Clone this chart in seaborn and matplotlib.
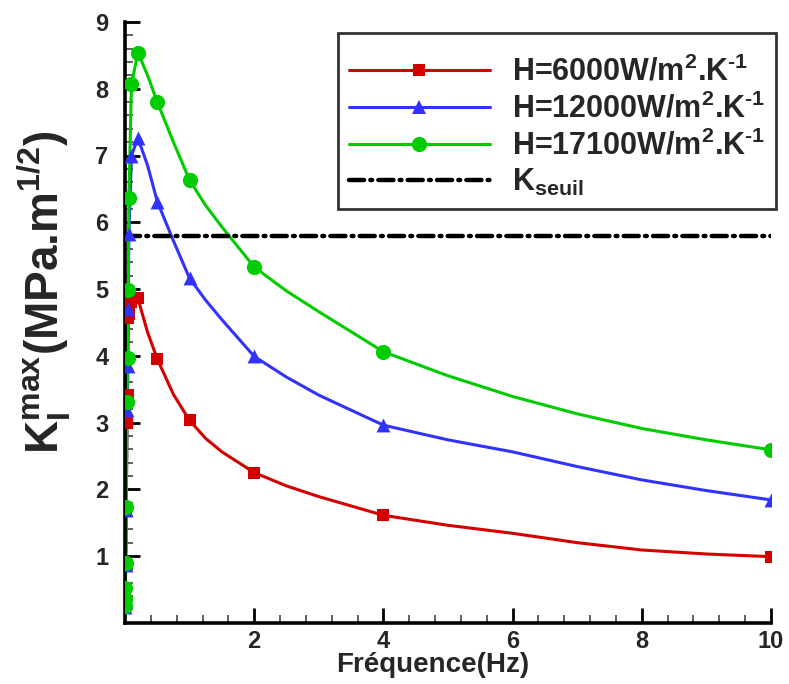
import numpy as np
import pandas as pd
import seaborn as sns
import matplotlib.pyplot as plt
from matplotlib.lines import Line2D
from matplotlib.ticker import MultipleLocator

# frequencies (Hz) where the markers sit
freq = [0.001, 0.002, 0.005, 0.01, 0.02, 0.03, 0.04, 0.05, 0.06, 0.1, 0.2, 0.5, 1, 2, 4, 10]
k_6000 = [0.23, 0.32, 0.46, 0.86, 1.68, 2.99, 3.41, 4.56, 4.62, 4.80, 4.86, 3.95, 3.03, 2.25, 1.61, 0.99]
k_12000 = [0.24, 0.33, 0.48, 0.87, 1.69, 3.19, 3.84, 4.70, 5.83, 7.00, 7.26, 6.31, 5.16, 3.99, 2.96, 1.84]
k_17100 = [0.25, 0.36, 0.52, 0.89, 1.74, 3.31, 3.96, 4.98, 6.36, 8.07, 8.54, 7.80, 6.63, 5.33, 4.06, 2.59]

# extra points (no markers there)
curve_freq = [0.35, 0.75, 1.25, 1.5, 2.5, 3, 5, 6, 7, 8, 9]
curve_6000 = [4.35, 3.42, 2.76, 2.56, 2.05, 1.89, 1.46, 1.34, 1.20, 1.09, 1.03]
curve_12000 = [6.85, 5.72, 4.83, 4.54, 3.68, 3.41, 2.74, 2.56, 2.34, 2.14, 1.98]
curve_17100 = [8.20, 7.20, 6.25, 5.93, 4.97, 4.66, 3.70, 3.39, 3.13, 2.91, 2.74]

k_seuil = 5.8
labels = [r"H=6000W/m$^{\mathbf{2}}$.K$^{\text{-1}}$",
          r"H=12000W/m$^{\mathbf{2}}$.K$^{\text{-1}}$",
          r"H=17100W/m$^{\mathbf{2}}$.K$^{\text{-1}}$",
          r"K$_{\mathbf{seuil}}$"]

sns.set_theme(style="ticks")
plt.rcParams['font.family'] = ['Liberation Sans', 'DejaVu Sans']
plt.rcParams['font.weight'] = 'bold'
plt.rcParams['mathtext.fontset'] = 'custom'
plt.rcParams['mathtext.rm'] = 'Liberation Sans:bold'
plt.rcParams['mathtext.it'] = 'Liberation Sans:bold'
plt.rcParams['mathtext.bf'] = 'Liberation Sans:bold'

fig = plt.figure(figsize=(7.89, 6.84), dpi=100)
ax = fig.add_axes([125 / 789, 1 - 622.75 / 684, 646 / 789, 600.75 / 684])

series = [
    (k_6000, curve_6000, '#d40000', 's', 72),
    (k_12000, curve_12000, '#3232ff', '^', 100),
    (k_17100, curve_17100, '#00cc00', 'o', 120),
]
handles = []
for (k, kc, col, mk, sz), lab in zip(series, labels):
    df = pd.DataFrame({'f': freq + curve_freq, 'k': k + kc}).sort_values('f')
    sns.lineplot(data=df, x='f', y='k', color=col, lw=2.2, estimator=None,
                 ax=ax, legend=False)
    sns.scatterplot(x=freq, y=k, marker=mk, s=sz, color=col, linewidth=0,
                    ax=ax, legend=False, zorder=3)
    handles.append(Line2D([], [], color=col, lw=2.2, marker=mk,
                          markersize=np.sqrt(sz), markeredgewidth=0))

sns.lineplot(x=[0, 10], y=[k_seuil, k_seuil], color='black', lw=3.2, ax=ax,
             dashes=False, legend=False)
seuil_line = ax.lines[-1]
seuil_line.set_dashes([3.4, 1.4, 0.4, 1.4])
seuil_line.set_dash_capstyle('round')
handles.append(Line2D([], [], color='black', lw=3.2, dashes=[3.4, 1.4, 0.4, 1.4],
                      dash_capstyle='round'))

ax.set_xlim(0, 10)
ax.set_ylim(0, 9)
ax.set_xticks([2, 4, 6, 8, 10])
ax.set_yticks([1, 2, 3, 4, 5, 6, 7, 8, 9])
ax.xaxis.set_minor_locator(MultipleLocator(0.4))
ax.yaxis.set_minor_locator(MultipleLocator(0.2))
ax.tick_params(which='major', direction='in', length=11, width=2, color='black',
               labelsize=17)
ax.tick_params(which='minor', direction='in', length=5.5, width=1.2, color='#444444')
ax.tick_params(axis='y', which='major', pad=12)
ax.tick_params(axis='x', which='major', pad=5)
for lab in ax.get_xticklabels() + ax.get_yticklabels():
    lab.set_fontweight('bold')

sns.despine(ax=ax)
for sp in ['left', 'bottom']:
    ax.spines[sp].set_linewidth(2.6)
    ax.spines[sp].set_color('black')

ax.set_xlabel('Fréquence(Hz)', fontsize=20, fontweight='bold')
ax.xaxis.set_label_coords(0.477, -0.048)
ax.set_ylabel(r'K$_{\mathbf{I}}^{\mathbf{max}}$(MPa.m$^{\mathbf{1/2}}$)',
              fontsize=33, fontweight='bold')
ax.yaxis.set_label_coords(-0.08, 0.55)

leg = ax.legend(handles, labels, loc='upper left',
                bbox_to_anchor=(338 / 789, 1 - 33 / 684),
                bbox_transform=fig.transFigure, fontsize=22, frameon=True,
                fancybox=False, handlelength=4.6, handletextpad=0.72,
                labelspacing=0.18, borderpad=0.36, borderaxespad=0,
                title=' ', title_fontsize=6)
leg.get_frame().set_edgecolor('black')
leg.get_frame().set_linewidth(2)
for t in leg.get_texts():
    t.set_fontweight('bold')

fig.savefig('out.png', dpi=100)
